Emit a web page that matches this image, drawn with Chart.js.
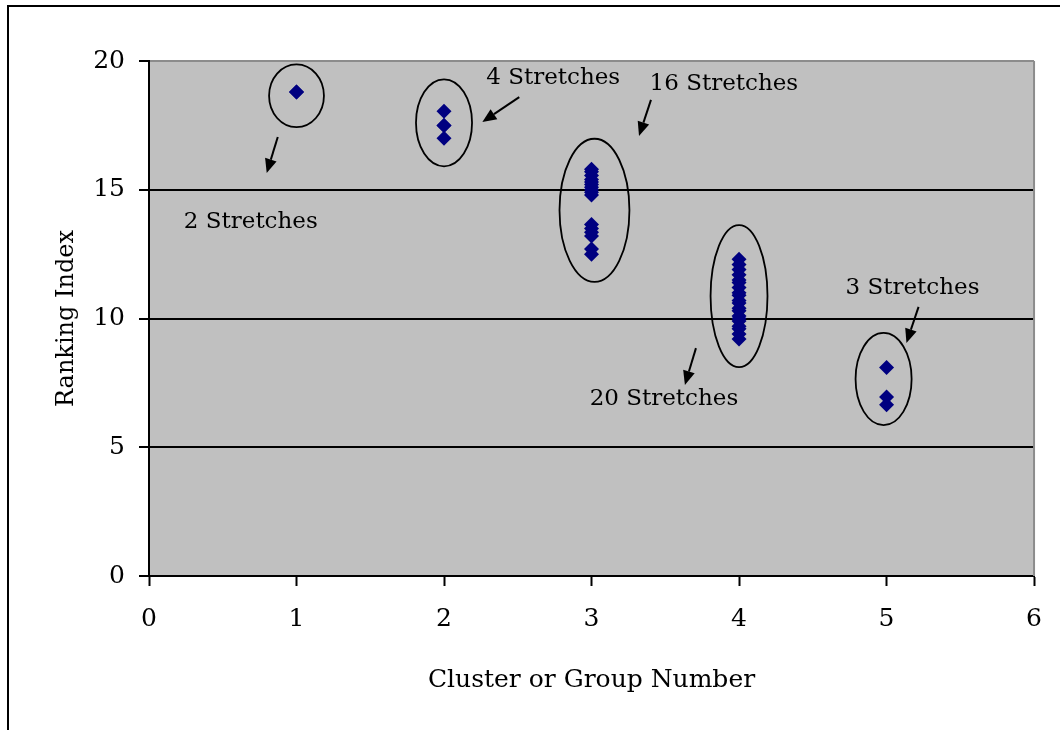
<!DOCTYPE html>
<html>
<head>
<meta charset="utf-8">
<title>Ranking Index by Cluster</title>
<script src="https://cdn.jsdelivr.net/npm/chart.js@4.4.1/dist/chart.umd.min.js"></script>
<style>
  html, body { margin: 0; padding: 0; background: #ffffff; }
  #wrap { width: 1060px; height: 730px; position: relative; }
</style>
</head>
<body>
<div id="wrap"><canvas id="chart" width="1060" height="730"></canvas></div>
<script>
// Cluster (group) numbers and how many stretches fall in each
const clusterNumbers = [1, 2, 3, 4, 5];
const stretchCounts = [2, 4, 16, 20, 3];

// Ranking index of every stretch, one list per cluster
const rankingCluster1 = [18.8, 18.8];
const rankingCluster2 = [18.05, 17.5, 17.5, 17.0];
const rankingCluster3 = [15.8, 15.7, 15.55, 15.4, 15.3, 15.2, 15.1, 15.0, 14.9, 14.8,
                         13.65, 13.5, 13.35, 13.2, 12.7, 12.5];
const rankingCluster4 = [12.3, 12.1, 11.9, 11.7, 11.5, 11.4, 11.2, 11.0, 10.9, 10.7,
                         10.6, 10.4, 10.3, 10.1, 10.0, 9.9, 9.7, 9.6, 9.4, 9.2];
const rankingCluster5 = [8.1, 6.95, 6.65];

// Axis tick values
const xTicks = [0, 1, 2, 3, 4, 5, 6];
const yTicks = [0, 5, 10, 15, 20];

// Callout geometry, in data units: ellipse around each cluster
const ellipseCenterX = [1.0, 2.0, 3.02, 4.0, 4.98];
const ellipseCenterY = [18.65, 17.6, 14.2, 10.87, 7.65];
const ellipseRadiusX = [0.186, 0.19, 0.237, 0.193, 0.19];
const ellipseRadiusY = [1.22, 1.69, 2.78, 2.76, 1.79];

// Label anchor (text centre) and arrow tail/tip for each cluster
const labelX = [0.69, 2.74, 3.897, 3.491, 5.176];
const labelY = [13.75, 19.34, 19.11, 6.87, 11.18];
const arrowTailX = [0.873, 2.51, 3.403, 3.708, 5.217];
const arrowTailY = [17.05, 18.6, 18.49, 8.85, 10.45];
const arrowTipX = [0.798, 2.26, 3.322, 3.633, 5.135];
const arrowTipY = [15.65, 17.63, 17.09, 7.42, 9.05];

const rankingByCluster = [rankingCluster1, rankingCluster2, rankingCluster3, rankingCluster4, rankingCluster5];
const points = [];
clusterNumbers.forEach((c, i) => {
  rankingByCluster[i].forEach(v => points.push({ x: c, y: v }));
});

Chart.defaults.font.family = "'DejaVu Serif', serif";
Chart.defaults.color = '#000000';

const plotBackground = {
  id: 'plotBackground',
  beforeDraw(chart) {
    const { ctx, chartArea: a } = chart;
    ctx.save();
    ctx.fillStyle = '#c0c0c0';
    ctx.fillRect(a.left, a.top, a.right - a.left, a.bottom - a.top);
    ctx.restore();
  },
  beforeDatasetsDraw(chart) {
    const { ctx, chartArea: a } = chart;
    ctx.save();
    ctx.strokeStyle = '#8c8c8c';
    ctx.lineWidth = 2;
    ctx.beginPath();
    ctx.moveTo(a.right, a.top);
    ctx.lineTo(a.right, a.bottom);
    ctx.stroke();
    ctx.restore();
  }
};

const outerFrame = {
  id: 'outerFrame',
  afterDraw(chart) {
    const ctx = chart.ctx;
    ctx.save();
    ctx.strokeStyle = '#000000';
    ctx.lineWidth = 2;
    ctx.beginPath();
    ctx.moveTo(8, 740);
    ctx.lineTo(8, 6);
    ctx.lineTo(1070, 6);
    ctx.stroke();
    ctx.restore();
  }
};

const clusterCallouts = {
  id: 'clusterCallouts',
  afterDatasetsDraw(chart) {
    const { ctx, scales: { x, y } } = chart;
    ctx.save();
    // ellipses
    ctx.strokeStyle = '#000000';
    ctx.lineWidth = 1.8;
    clusterNumbers.forEach((c, i) => {
      const cx = x.getPixelForValue(ellipseCenterX[i]);
      const cy = y.getPixelForValue(ellipseCenterY[i]);
      const rx = Math.abs(x.getPixelForValue(ellipseCenterX[i] + ellipseRadiusX[i]) - cx);
      const ry = Math.abs(y.getPixelForValue(ellipseCenterY[i] + ellipseRadiusY[i]) - cy);
      ctx.beginPath();
      ctx.ellipse(cx, cy, rx, ry, 0, 0, Math.PI * 2);
      ctx.stroke();
    });
    // arrows
    ctx.fillStyle = '#000000';
    clusterNumbers.forEach((c, i) => {
      const x0 = x.getPixelForValue(arrowTailX[i]);
      const y0 = y.getPixelForValue(arrowTailY[i]);
      const x1 = x.getPixelForValue(arrowTipX[i]);
      const y1 = y.getPixelForValue(arrowTipY[i]);
      const ang = Math.atan2(y1 - y0, x1 - x0);
      const headLen = 14, headHalf = 6;
      const bx = x1 - Math.cos(ang) * headLen;
      const by = y1 - Math.sin(ang) * headLen;
      ctx.lineWidth = 2;
      ctx.beginPath();
      ctx.moveTo(x0, y0);
      ctx.lineTo(bx, by);
      ctx.stroke();
      ctx.beginPath();
      ctx.moveTo(x1, y1);
      ctx.lineTo(bx + Math.sin(ang) * headHalf, by - Math.cos(ang) * headHalf);
      ctx.lineTo(bx - Math.sin(ang) * headHalf, by + Math.cos(ang) * headHalf);
      ctx.closePath();
      ctx.fill();
    });
    // labels
    ctx.font = "23px 'DejaVu Serif', serif";
    ctx.textAlign = 'center';
    ctx.textBaseline = 'middle';
    clusterNumbers.forEach((c, i) => {
      ctx.fillText(stretchCounts[i] + ' Stretches',
        x.getPixelForValue(labelX[i]), y.getPixelForValue(labelY[i]));
    });
    ctx.restore();
  }
};

new Chart(document.getElementById('chart'), {
  type: 'scatter',
  data: {
    datasets: [{
      label: 'Ranking Index',
      data: points,
      pointStyle: 'rectRot',
      pointRadius: 7.5,
      pointHoverRadius: 7.5,
      backgroundColor: '#000080',
      borderColor: '#000080',
      borderWidth: 0
    }]
  },
  options: {
    responsive: false,
    animation: false,
    events: [],
    layout: { padding: { left: 0, top: 61, right: 24, bottom: 0 } },
    plugins: {
      legend: { display: false },
      tooltip: { enabled: false }
    },
    scales: {
      x: {
        type: 'linear',
        min: xTicks[0],
        max: xTicks[xTicks.length - 1],
        afterBuildTicks(scale) { scale.ticks = xTicks.map(v => ({ value: v })); },
        afterFit(scale) { scale.height = 154; },
        ticks: { font: { size: 25 }, padding: 18, color: '#000' },
        grid: { drawOnChartArea: false, drawTicks: true, tickLength: 10, tickColor: '#000', tickWidth: 2 },
        border: { display: true, color: '#000', width: 2 },
        title: {
          display: true,
          text: 'Cluster or Group Number',
          font: { size: 25 },
          color: '#000',
          padding: { top: 0, bottom: 35 }
        }
      },
      y: {
        type: 'linear',
        min: yTicks[0],
        max: yTicks[yTicks.length - 1],
        afterBuildTicks(scale) { scale.ticks = yTicks.map(v => ({ value: v })); },
        afterFit(scale) { scale.width = 149; },
        ticks: { font: { size: 25 }, padding: 14, color: '#000' },
        grid: {
          drawTicks: true,
          tickLength: 10,
          tickColor: '#000',
          tickWidth: 2,
          lineWidth: 2,
          color(ctx) {
            const v = ctx.tick && ctx.tick.value;
            if (v === yTicks[0]) return 'rgba(0,0,0,0)';
            if (v === yTicks[yTicks.length - 1]) return '#8c8c8c';
            return '#000000';
          }
        },
        border: { display: true, color: '#000', width: 2 },
        title: {
          display: true,
          text: 'Ranking Index',
          font: { size: 24 },
          color: '#000',
          padding: { top: 52, bottom: 0 }
        }
      }
    }
  },
  plugins: [plotBackground, clusterCallouts, outerFrame]
});
</script>
</body>
</html>
